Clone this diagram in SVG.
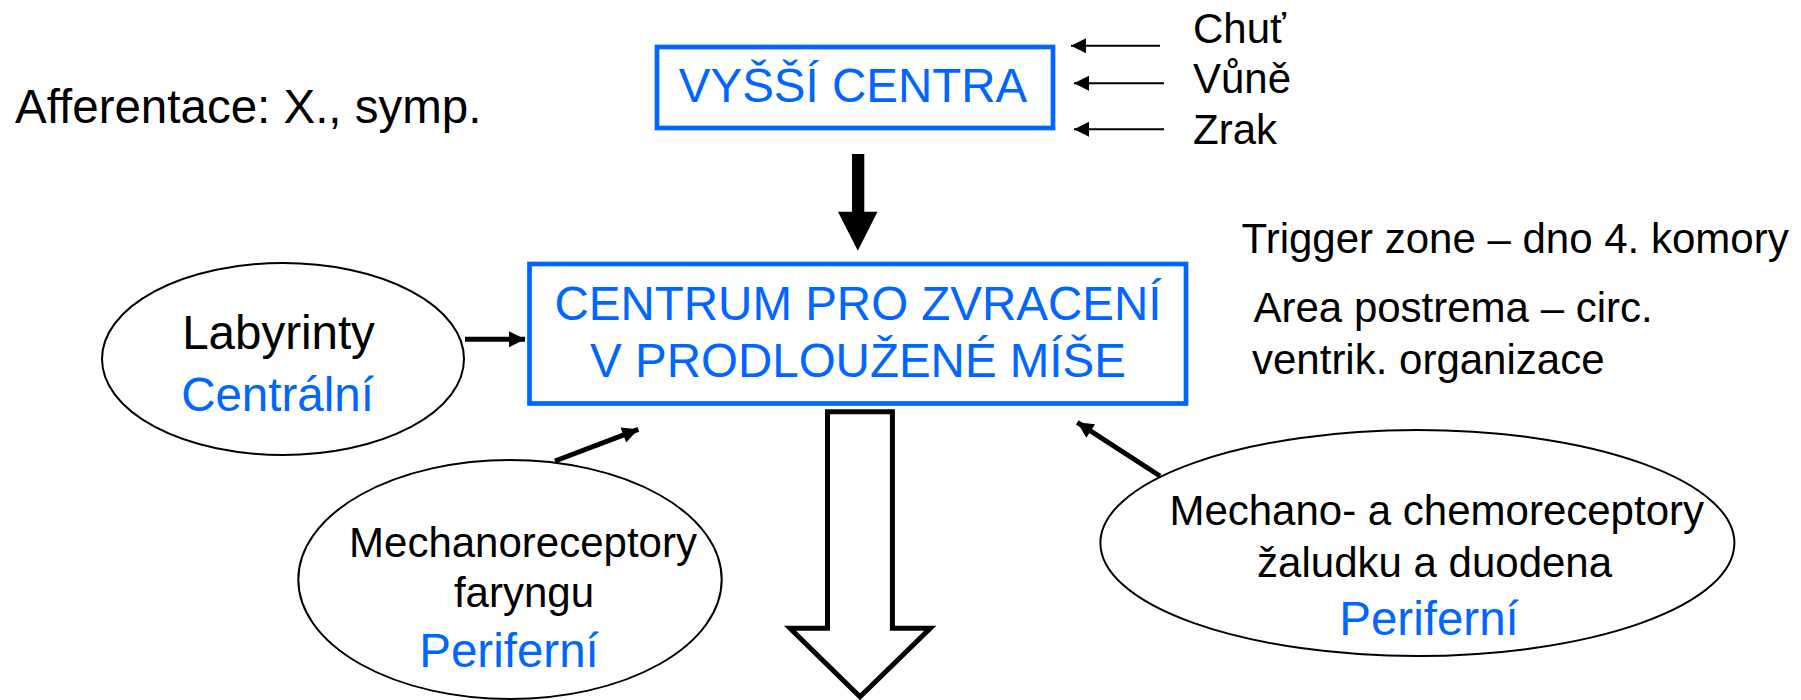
<svg xmlns="http://www.w3.org/2000/svg" width="1801" height="700" viewBox="0 0 1801 700">
<defs>
<style>
text{font-family:"Liberation Sans",Arial,sans-serif;}
.blk{fill:#000;font-size:42px;}
.big{fill:#000;font-size:47.5px;}
.blu{fill:#0066FF;font-size:47.5px;}
.box{fill:#fff;stroke:#0066FF;stroke-width:4.7;}
.ell{fill:#fff;stroke:#000;stroke-width:2;}
.thick{stroke:#000;stroke-width:5;fill:none;}
.thin{stroke:#000;stroke-width:2;fill:none;}
.mid{text-anchor:middle;}
</style>
<marker id="hThick" markerUnits="userSpaceOnUse" markerWidth="18" markerHeight="18" viewBox="0 0 18 18" refX="17" refY="9" orient="auto">
<path d="M1,1 L17,9 L1,17 Z" fill="#000"/>
</marker>
<marker id="hThin" markerUnits="userSpaceOnUse" markerWidth="16" markerHeight="16" viewBox="0 0 16 16" refX="15" refY="8" orient="auto">
<path d="M0,0.5 L15,8 L0,15.5 Z" fill="#000"/>
</marker>
</defs>
<rect width="1801" height="700" fill="#fff"/>

<g id="afferentace"><text class="big" x="15" y="123.3">Afferentace: X., symp.</text></g>

<g id="vyssi-centra">
<rect class="box" x="657" y="47" width="396" height="81"/>
<text class="blu mid" x="853" y="102.3">VYŠŠÍ CENTRA</text>
</g>

<g id="senses">
<text class="blk" x="1193" y="42.7">Chuť</text>
<text class="blk" x="1193" y="93.3">Vůně</text>
<text class="blk" x="1193" y="144">Zrak</text>
</g>

<g id="centrum">
<rect class="box" x="529.5" y="264" width="656.5" height="139.5"/>
<text class="blu mid" x="858" y="319.5">CENTRUM PRO ZVRACENÍ</text>
<text class="blu mid" x="858" y="376.5">V PRODLOUŽENÉ MÍŠE</text>
</g>

<g id="trigger">
<text class="blk" x="1241.6" y="252.7">Trigger zone – dno 4. komory</text>
<text class="blk" x="1253.5" y="321.7">Area postrema – circ.</text>
<text class="blk" x="1252" y="374">ventrik. organizace</text>
</g>

<g id="labyrinty">
<ellipse class="ell" cx="283" cy="359" rx="181" ry="96"/>
<text class="big mid" x="278.5" y="349.3">Labyrinty</text>
<text class="blu mid" x="277.5" y="410.7">Centrální</text>
</g>

<g id="faryngu">
<ellipse class="ell" cx="510" cy="579.5" rx="211.7" ry="119.5"/>
<text class="blk mid" x="523" y="556.7">Mechanoreceptory</text>
<text class="blk mid" x="524" y="607.3">faryngu</text>
<text class="blu mid" x="509" y="666.7">Periferní</text>
</g>

<g id="zaludek">
<ellipse class="ell" cx="1417.4" cy="543" rx="317" ry="113"/>
<text class="blk mid" x="1436.7" y="525">Mechano- a chemoreceptory</text>
<text class="blk mid" x="1434.6" y="576.7">žaludku a duodena</text>
<text class="blu mid" x="1429" y="635">Periferní</text>
</g>

<g id="connectors">
<line class="thin" x1="1160" y1="45.7" x2="1071" y2="45.7" marker-end="url(#hThin)"/>
<line class="thin" x1="1164" y1="83.3" x2="1074" y2="83.3" marker-end="url(#hThin)"/>
<line class="thin" x1="1164" y1="129.3" x2="1074" y2="129.3" marker-end="url(#hThin)"/>
<polygon points="852,154 864.3,154 864.3,211.7 877.5,211.7 857.8,250.7 838,211.7 852,211.7" fill="#000"/>
<line class="thick" x1="465" y1="339.3" x2="525" y2="339.3" marker-end="url(#hThick)"/>
<line class="thick" x1="555" y1="461" x2="638.3" y2="429.3" marker-end="url(#hThick)"/>
<line class="thick" x1="1160" y1="476" x2="1077.3" y2="422.3" marker-end="url(#hThick)"/>
<polygon points="827.5,411.7 892.4,411.7 892.4,628.3 930.3,628.3 860,696.7 790,628.3 827.5,628.3" fill="#fff" stroke="#000" stroke-width="5" stroke-miterlimit="10"/>
</g>
</svg>
